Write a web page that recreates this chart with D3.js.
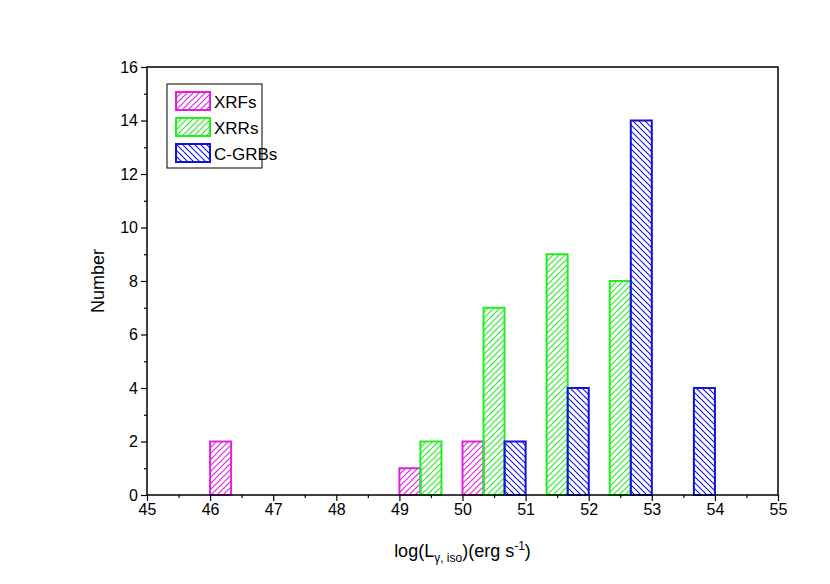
<!DOCTYPE html>
<html><head><meta charset="utf-8">
<script src="https://cdn.jsdelivr.net/npm/d3@7"></script>
<style>body{margin:0;background:#fff}</style></head>
<body><div id="chart"></div>
<script>
// bin start (log L) and counts per class
var xrfStarts = [46, 49, 50];
var xrfCounts = [2, 1, 2];
var xrrStarts = [49.333, 50.333, 51.333, 52.333];
var xrrCounts = [2, 7, 9, 8];
var cgrbStarts = [50.667, 51.667, 52.667, 53.667];
var cgrbCounts = [2, 4, 14, 4];
var binWidth = 1 / 3;

var series = [
  { name: "XRFs", color: "#e020e0", dir: "f", starts: xrfStarts, counts: xrfCounts },
  { name: "XRRs", color: "#22ee22", dir: "f", starts: xrrStarts, counts: xrrCounts },
  { name: "C-GRBs", color: "#1010e0", dir: "b", starts: cgrbStarts, counts: cgrbCounts }
];

var width = 830, height = 584;
var margin = { top: 67, right: 52, bottom: 89, left: 147 };
var w = width - margin.left - margin.right, h = height - margin.top - margin.bottom;
var font = "Arial, 'Liberation Sans', sans-serif";

var svg = d3.select("#chart").append("svg").attr("width", width).attr("height", height);
var defs = svg.append("defs");
series.forEach(function (s, i) {
  var p = defs.append("pattern").attr("id", "hatch" + i)
    .attr("patternUnits", "userSpaceOnUse").attr("width", 6).attr("height", 6);
  var d = s.dir == "f" ? "M-1,1 l2,-2 M0,6 l6,-6 M5,7 l2,-2" : "M-1,5 l2,2 M0,0 l6,6 M5,-1 l2,2";
  p.append("path").attr("d", d).attr("fill", "none")
    .style("stroke", s.color).style("stroke-width", "1.1px");
});

var x = d3.scaleLinear().domain([45, 55]).range([0, w]);
var y = d3.scaleLinear().domain([0, 16]).range([h, 0]);

var g = svg.append("g").attr("transform", `translate(${margin.left},${margin.top})`);

series.forEach(function (s, i) {
  g.selectAll(".bar" + i)
    .data(s.starts.map((d, j) => ({ x: d, c: s.counts[j] })))
    .join("rect")
    .attr("x", d => x(d.x))
    .attr("width", d => x(d.x + binWidth) - x(d.x))
    .attr("y", d => y(d.c))
    .attr("height", d => h - y(d.c))
    .attr("fill", "url(#hatch" + i + ")")
    .attr("stroke", s.color)
    .attr("stroke-width", 2);
});

// axes
g.append("g").attr("transform", `translate(0,${h})`)
  .call(d3.axisBottom(x).tickValues(d3.range(45, 56)).tickFormat(d3.format("d")).tickSize(6));
g.append("g").attr("transform", `translate(0,${h})`)
  .call(d3.axisBottom(x).tickValues(d3.range(45.5, 55, 1)).tickFormat("").tickSize(3));
g.append("g")
  .call(d3.axisLeft(y).tickValues(d3.range(0, 17, 2)).tickSize(6));
g.append("g")
  .call(d3.axisLeft(y).tickValues(d3.range(1, 16, 2)).tickFormat("").tickSize(3));
g.selectAll(".domain").remove();
g.selectAll(".tick line").attr("stroke-width", 1.2);
g.selectAll(".tick text").style("font-family", font).style("font-size", "16px");

g.append("rect").attr("width", w).attr("height", h)
  .attr("fill", "none").attr("stroke", "#000").attr("stroke-width", 1.5);

// axis labels
var lab = svg.append("text").attr("x", margin.left + w / 2).attr("y", 557)
  .attr("text-anchor", "middle")
  .style("font-family", font).style("font-size", "18px");
lab.append("tspan").text("log(L");
lab.append("tspan").attr("dy", 5).style("font-size", "12px").text("γ, iso");
lab.append("tspan").attr("dy", -5).text(")(erg s");
lab.append("tspan").attr("dy", -7).style("font-size", "12px").text("-1");
lab.append("tspan").attr("dy", 7).text(")");

svg.append("text").attr("transform", `translate(104,${margin.top + h / 2}) rotate(-90)`)
  .attr("text-anchor", "middle")
  .style("font-family", font).style("font-size", "18px")
  .text("Number");

// legend
var leg = svg.append("g").attr("transform", "translate(167,84)");
leg.append("rect").attr("width", 95).attr("height", 84)
  .attr("fill", "#fff").attr("stroke", "#000").attr("stroke-width", 1);
series.forEach(function (s, i) {
  var row = leg.append("g").attr("transform", `translate(9,${8 + i * 26})`);
  row.append("rect").attr("width", 34).attr("height", 18)
    .attr("fill", "url(#hatch" + i + ")").attr("stroke", s.color).attr("stroke-width", 2);
  row.append("text").attr("x", 38).attr("y", 16).text(s.name)
    .style("font-family", font).style("font-size", "17px");
});
</script></body></html>
